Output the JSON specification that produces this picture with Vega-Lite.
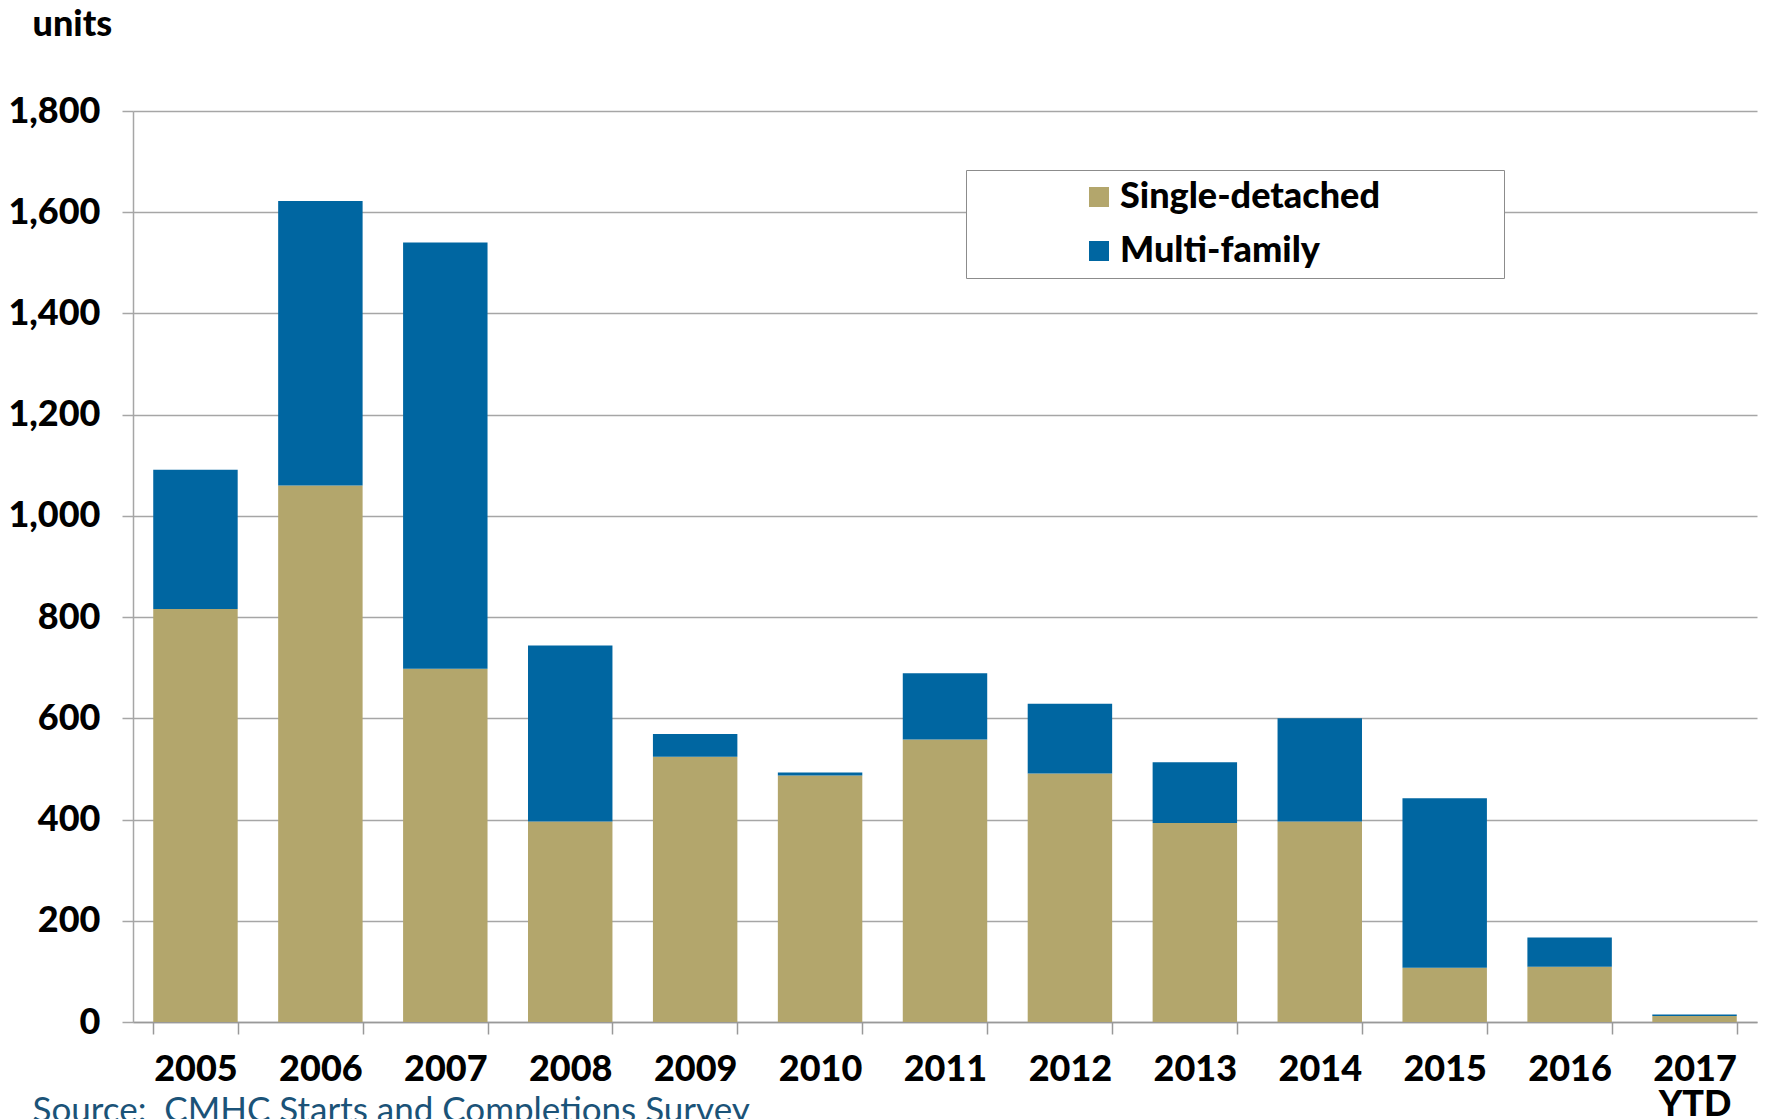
{
  "$schema": "https://vega.github.io/schema/vega-lite/v6.json",
  "width": 1624,
  "height": 911,
  "autosize": {"type": "none"},
  "padding": {"left": 133, "top": 111, "right": 9, "bottom": 97},
  "background": "white",
  "config": {
    "view": {"stroke": null},
    "font": "Lato"
  },
  "data": {
    "values": [
      {"year": "2005", "type": "Single-detached", "units": 816},
      {"year": "2005", "type": "Multi-family", "units": 275},
      {"year": "2006", "type": "Single-detached", "units": 1060},
      {"year": "2006", "type": "Multi-family", "units": 562},
      {"year": "2007", "type": "Single-detached", "units": 698},
      {"year": "2007", "type": "Multi-family", "units": 842},
      {"year": "2008", "type": "Single-detached", "units": 396},
      {"year": "2008", "type": "Multi-family", "units": 348},
      {"year": "2009", "type": "Single-detached", "units": 524},
      {"year": "2009", "type": "Multi-family", "units": 45},
      {"year": "2010", "type": "Single-detached", "units": 487},
      {"year": "2010", "type": "Multi-family", "units": 6},
      {"year": "2011", "type": "Single-detached", "units": 558},
      {"year": "2011", "type": "Multi-family", "units": 131},
      {"year": "2012", "type": "Single-detached", "units": 491},
      {"year": "2012", "type": "Multi-family", "units": 138},
      {"year": "2013", "type": "Single-detached", "units": 393},
      {"year": "2013", "type": "Multi-family", "units": 120},
      {"year": "2014", "type": "Single-detached", "units": 396},
      {"year": "2014", "type": "Multi-family", "units": 204},
      {"year": "2015", "type": "Single-detached", "units": 107},
      {"year": "2015", "type": "Multi-family", "units": 335},
      {"year": "2016", "type": "Single-detached", "units": 109},
      {"year": "2016", "type": "Multi-family", "units": 58},
      {"year": "2017", "type": "Single-detached", "units": 12},
      {"year": "2017", "type": "Multi-family", "units": 3}
    ]
  },
  "mark": {"type": "bar"},
  "encoding": {
    "x": {
      "field": "year",
      "type": "ordinal",
      "scale": {"paddingInner": 0.324, "paddingOuter": 0.162},
      "axis": {
        "title": "Source:\u00a0 CMHC Starts and Completions Survey",
        "titleX": -101,
        "titleY": 88,
        "titleAlign": "left",
        "titleBaseline": "middle",
        "titleFontSize": 35,
        "titleFontWeight": "normal",
        "titleColor": "#1B5378",
        "labelAngle": 0,
        "labelFontSize": 36,
        "labelFontWeight": 900,
        "labelColor": "black",
        "labelLineHeight": 35,
        "labelPadding": 18,
        "labelExpr": "datum.value == '2017' ? ['2017', 'YTD'] : datum.label",
        "tickBand": "extent",
        "tickSize": 12,
        "tickColor": "#999999",
        "tickWidth": 1.5,
        "domainColor": "#999999",
        "domainWidth": 1.5,
        "grid": false
      }
    },
    "y": {
      "field": "units",
      "type": "quantitative",
      "stack": "zero",
      "scale": {"domain": [0, 1800], "nice": false},
      "axis": {
        "title": "units",
        "titleAngle": 0,
        "titleX": -101,
        "titleY": -87,
        "titleAlign": "left",
        "titleBaseline": "middle",
        "titleFontSize": 36,
        "titleFontWeight": 900,
        "titleColor": "black",
        "values": [0, 200, 400, 600, 800, 1000, 1200, 1400, 1600, 1800],
        "format": ",.0f",
        "labelFontSize": 36,
        "labelFontWeight": 900,
        "labelColor": "black",
        "labelPadding": 22,
        "tickSize": 11,
        "tickColor": "#A6A6A6",
        "tickWidth": 1.5,
        "domainColor": "#A6A6A6",
        "domainWidth": 1.5,
        "grid": true,
        "gridColor": "#A6A6A6",
        "gridWidth": 1.5
      }
    },
    "color": {
      "field": "type",
      "type": "nominal",
      "scale": {
        "domain": ["Single-detached", "Multi-family"],
        "range": ["#B3A66C", "#0066A1"]
      },
      "legend": {
        "title": "\u00a0",
        "titleOrient": "right",
        "titlePadding": 115,
        "titleFontSize": 11,
        "orient": "none",
        "legendX": 833,
        "legendY": 59,
        "fillColor": "white",
        "strokeColor": "#8C8C8C",
        "padding": 9,
        "symbolType": "square",
        "symbolSize": 400,
        "symbolStrokeWidth": 0,
        "symbolOffset": 106,
        "labelFontSize": 36,
        "labelFontWeight": 900,
        "labelColor": "black",
        "labelOffset": 3,
        "labelLimit": 0,
        "rowPadding": 18
      }
    },
    "order": {"field": "type", "sort": "descending"}
  }
}
